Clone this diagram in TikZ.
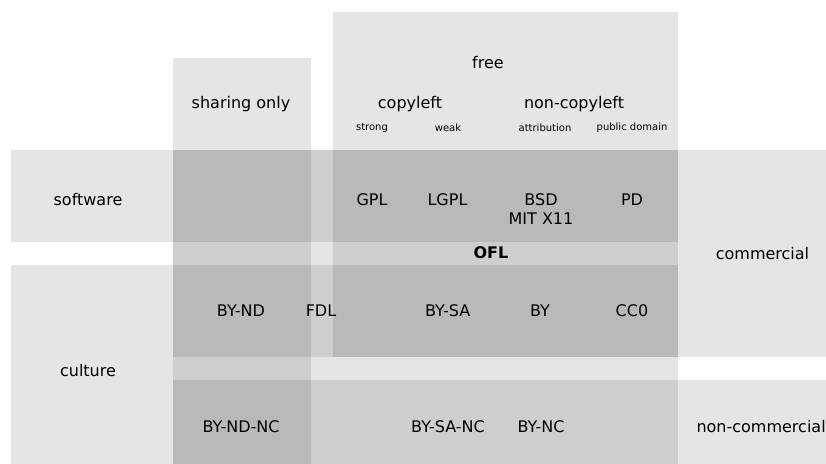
\documentclass[tikz,border=0pt]{standalone}
\usepackage{fontspec}
\setmainfont{DejaVu Sans}
\begin{document}
\begin{tikzpicture}[x=1pt,y=-1pt,
  band/.style={fill=black,fill opacity=0.1},
  lbl/.style={inner sep=0pt,anchor=base,font=\fontsize{16}{19}\selectfont},
  sml/.style={inner sep=0pt,anchor=base,font=\fontsize{10}{12}\selectfont},
  bld/.style={inner sep=0pt,anchor=base,font=\fontsize{16}{19}\selectfont\bfseries}]
\useasboundingbox (0,0) rectangle (826,463);
\begin{scope}
\clip (0,0) rectangle (826,463);
% rows
\path[band] (11,150) rectangle (678,242);   % software
\path[band] (11,265) rectangle (678,470);   % culture
\path[band] (173,150) rectangle (830,357);  % commercial
\path[band] (173,380) rectangle (830,470);  % non-commercial
% columns
\path[band] (173,58) rectangle (311,470);   % sharing only
\path[band] (333,12) rectangle (678,357);   % free
\end{scope}
% headers
\node[lbl] (free) at (488,68) {free};
\node[lbl] (sharing) at (241,108) {sharing only};
\node[lbl] (copyleft) at (410,108) {copyleft};
\node[lbl] (noncopyleft) at (574,108) {non-copyleft};
\node[sml] (strong) at (372,130) {strong};
\node[sml] (weak) at (448,131) {weak};
\node[sml] (attrib) at (545,131) {attribution};
\node[sml] (pubdom) at (632,130) {public domain};
% software row
\node[lbl] (software) at (88,205) {software};
\node[lbl] (gpl) at (372,205) {GPL};
\node[lbl] (lgpl) at (447.5,205) {LGPL};
\node[lbl] (bsd) at (541,205) {BSD};
\node[lbl] (mit) at (541,224) {MIT X11};
\node[lbl] (pd) at (632,205) {PD};
% middle
\node[bld] (ofl) at (491,258) {OFL};
\node[lbl] (commercial) at (762.5,259) {commercial};
% culture row
\node[lbl] (bynd) at (241,316) {BY-ND};
\node[lbl] (fdl) at (321,316) {FDL};
\node[lbl] (bysa) at (447.7,316) {BY-SA};
\node[lbl] (by) at (540,316) {BY};
\node[lbl] (cc0) at (632,316) {CC0};
\node[lbl] (culture) at (88,376) {culture};
% non-commercial row
\node[lbl] (byndnc) at (241,432) {BY-ND-NC};
\node[lbl] (bysanc) at (448,432) {BY-SA-NC};
\node[lbl] (bync) at (541,432) {BY-NC};
\node[lbl,anchor=base west] (noncommercial) at (696.3,432) {non-commercial};
\end{tikzpicture}
\end{document}
